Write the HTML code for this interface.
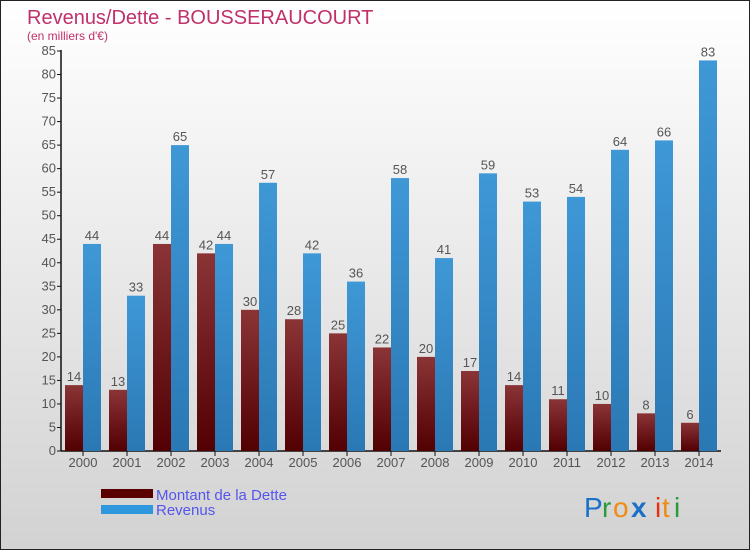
<!DOCTYPE html>
<html><head><meta charset="utf-8"><style>
body{margin:0}
#c{width:748px;height:548px;border:1px solid #222;background:linear-gradient(#ffffff,#d2d2d2);position:relative;overflow:hidden;font-family:"Liberation Sans",sans-serif}
</style></head><body>
<div id="c">
<svg id="s" width="748" height="548" style="position:absolute;left:0;top:0" font-family="Liberation Sans,sans-serif">
<defs>
<linearGradient id="gd" x1="0" y1="0" x2="0" y2="1"><stop offset="0" stop-color="#8a3436"/><stop offset="1" stop-color="#520002"/></linearGradient>
<linearGradient id="gr" x1="0" y1="0" x2="0" y2="1"><stop offset="0" stop-color="#3f98d6"/><stop offset="1" stop-color="#2a78b4"/></linearGradient>
</defs>
<text x="26" y="23" font-size="20" fill="#c0306a">Revenus/Dette - BOUSSERAUCOURT</text>
<text x="26" y="39" font-size="12" fill="#c0306a">(en milliers d'€)</text>
<g id="g"></g>
<rect x="100" y="488" width="52" height="9" fill="#5a0000"/>
<rect x="100" y="504" width="52" height="9" fill="#2e97dd"/>
<text x="155" y="499" font-size="15" fill="#5555ee">Montant de la Dette</text>
<text x="155" y="514" font-size="15" fill="#5555ee">Revenus</text>
<g font-size="28">
<text x="583" y="516" fill="#1a70c8">P</text><text x="601" y="516" fill="#2a9a3a">r</text><text x="612" y="516" fill="#f08a10">o</text><text x="630" y="516" fill="#1a70c8" font-weight="bold">x</text><text x="654" y="516" fill="#e83010">i</text><text x="661" y="516" fill="#f08a10">t</text><text x="673" y="516" fill="#2a9a3a">i</text>
</g>
</svg>
</div>
<script>
const years=["2000","2001","2002","2003","2004","2005","2006","2007","2008","2009","2010","2011","2012","2013","2014"];
const dette=[14,13,44,42,30,28,25,22,20,17,14,11,10,8,6];
const revenus=[44,33,65,44,57,42,36,58,41,59,53,54,64,66,83];
const yTicks=[0,5,10,15,20,25,30,35,40,45,50,55,60,65,70,75,80,85];
const NS="http://www.w3.org/2000/svg";
const g=document.getElementById('g');
const y=v=>450-v*400/85;
const x=i=>82+i*44;
function mk(t,a){const e=document.createElementNS(NS,t);for(const k in a)e.setAttribute(k,a[k]);g.appendChild(e);return e;}
let ax=mk('line',{x1:60,y1:49,x2:60,y2:450,stroke:'#111','stroke-width':1.5});


let bx=mk('line',{x1:60,y1:450,x2:720,y2:450,stroke:'#111','stroke-width':1.5});


yTicks.forEach(v=>{
 let t=mk('line',{x1:56,x2:60,y1:y(v),y2:y(v),stroke:'#111'});
 
 
 let l=mk('text',{x:55,y:y(v)+4,'font-size':13,fill:'#555','text-anchor':'end'});l.textContent=v;
 
 
});
years.forEach((yr,i)=>{
 const c=x(i);
 let t=mk('line',{x1:c,x2:c,y1:450,y2:455,stroke:'#111'});
 
 
 let l=mk('text',{x:c,y:466,'font-size':13,fill:'#555','text-anchor':'middle'});l.textContent=yr;
 
 
 let b1=mk('rect',{x:c-18,y:y(dette[i]),width:18,height:450-y(dette[i]),fill:'url(#gd)'});
 
 
 let b2=mk('rect',{x:c,y:y(revenus[i]),width:18,height:450-y(revenus[i]),fill:'url(#gr)'});
 
 
 let v1=mk('text',{x:c-9,y:y(dette[i])-4,'font-size':13,fill:'#555','text-anchor':'middle'});v1.textContent=dette[i];
 
 
 let v2=mk('text',{x:c+9,y:y(revenus[i])-4,'font-size':13,fill:'#555','text-anchor':'middle'});v2.textContent=revenus[i];
 
 
});
</script>
</body></html>
